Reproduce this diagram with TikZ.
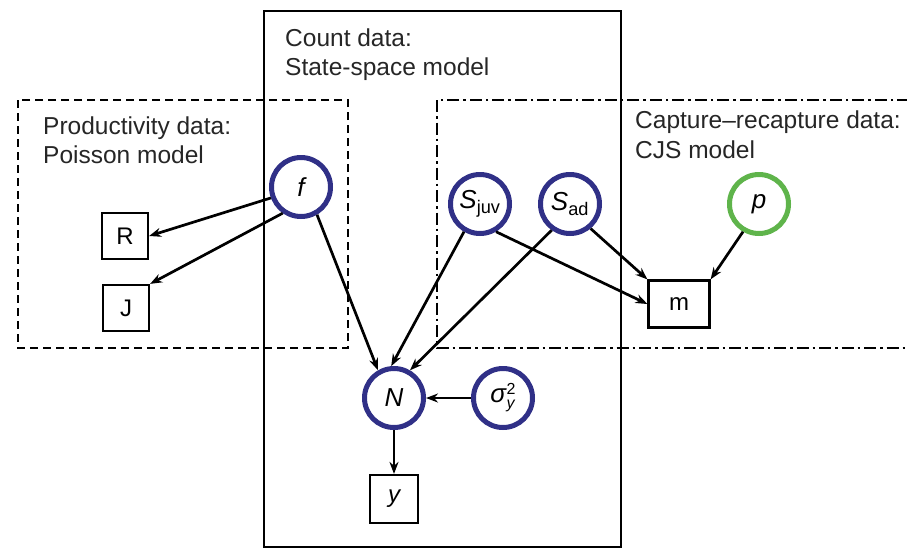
\documentclass[tikz,border=0pt]{standalone}
\usepackage{fontspec}
\setmainfont{Liberation Sans}
\usetikzlibrary{arrows.meta}
\definecolor{nodeblue}{RGB}{48,48,135}
\definecolor{nodegreen}{RGB}{95,180,75}
\newcommand{\sigstack}{σ\hspace{0.5pt}{\fontsize{16}{16}\selectfont\begin{tabular}[c]{@{}l@{}}\upshape 2\\[-2pt] y\end{tabular}}}
\tikzset{
  var/.style={circle, draw=nodeblue, line width=5pt, minimum size=59pt, inner sep=0pt, font=\fontsize{26}{28}\selectfont\itshape},
  gvar/.style={var, draw=nodegreen},
  obs/.style={rectangle, draw=black, line width=2.2pt, minimum width=46pt, minimum height=46pt, inner sep=0pt, font=\fontsize{24}{28}\selectfont},
  lbl/.style={anchor=base west, inner sep=0pt, font=\fontsize{24.5}{28}\selectfont, text=black!85},
  edge/.style={line width=2.7pt, -{Stealth[length=12pt,width=9pt]}},
}
\begin{document}
\begin{tikzpicture}[x=1pt,y=-1pt]
\useasboundingbox (0,0) rectangle (907,552);
\clip (0,0) rectangle (907,552);
% boxes
\draw[line width=2.8pt] (264,11) rectangle (621,547);
\draw[line width=2.6pt, dash pattern=on 8pt off 5pt] (18,100) rectangle (348,348);
\draw[line width=2.6pt, dash pattern=on 12pt off 4pt on 2.5pt off 4pt] (437,100) rectangle (920,348);
% labels
\node[lbl] (t1) at (285,46) {Count data:};
\node[lbl] (t2) at (285,75) {State-space model};
\node[lbl] (t3) at (43,134) {Productivity data:};
\node[lbl] (t4) at (43,163) {Poisson model};
\node[lbl] (t5) at (635,128) {Capture–recapture data:};
\node[lbl] (t6) at (635,158) {CJS model};
% nodes
\node[var] (f) at (301,187) {f};
\node[var] (sj) at (480,204) {S\textsubscript{\upshape juv}};
\node[var] (sa) at (570,204) {S\textsubscript{\upshape ad}};
\node[gvar] (p) at (759,204) {p};
\node[var] (N) at (394,398) {N};
\node[var] (sig) at (503,398) {\sigstack};
\node[obs] (R) at (125,236) {R};
\node[obs] (J) at (126,308) {J};
\node[obs, minimum width=61pt, minimum height=47pt] (m) at (679,304) {m};
\node[obs, minimum width=48pt, minimum height=48pt] (y) at (394,499) {\itshape y};
% edges
\draw[edge] (f.200) -- (R.east);
\draw[edge] (f.235) -- (J.north east);
\draw[edge] (f.300) -- (N.120);
\draw[edge] (sj.240) -- (N.95);
\draw[edge] (sa.235) -- (N.60);
\draw[edge] (sj.300) -- (m.west);
\draw[edge] (sa.310) -- (m.north west);
\draw[edge] (p.240) -- (m.north east);
\draw[edge] (sig.west) -- (N.east);
\draw[edge] (N.south) -- (y.north);
\end{tikzpicture}
\end{document}
